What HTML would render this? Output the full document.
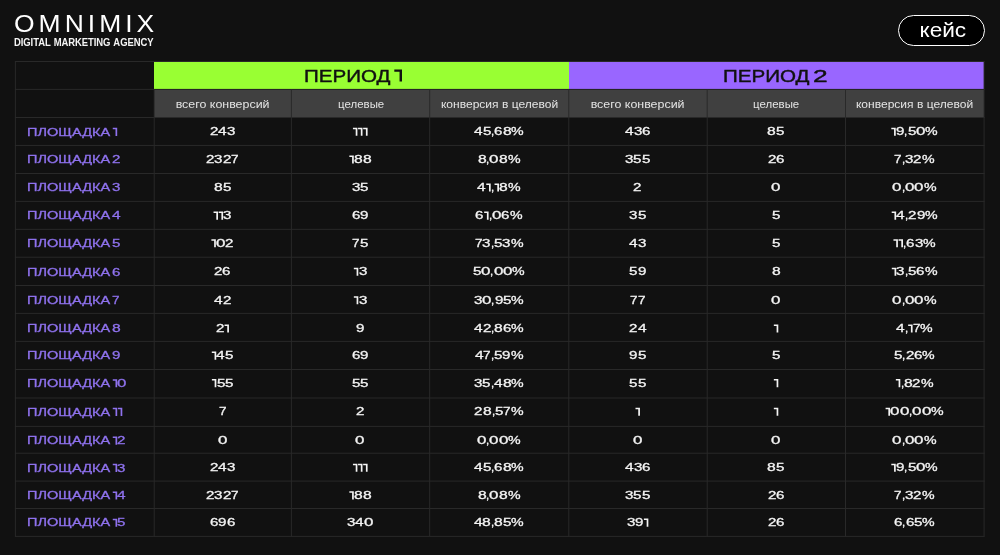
<!DOCTYPE html>
<html><head><meta charset="utf-8"><title>OMNIMIX</title>
<style>
html,body{margin:0;padding:0;background:#111111}
body{width:1000px;height:555px;background:#111111;position:relative;overflow:hidden;font-family:"Liberation Sans",sans-serif}
.t{position:absolute;white-space:nowrap;display:block;will-change:transform}
.r{position:absolute}
</style></head><body>
<div class="r" style="left:154px;top:62px;width:415px;height:27px;background:#99ff33;"></div>
<div class="r" style="left:569px;top:62px;width:415px;height:27px;background:#9966ff;"></div>
<div class="r" style="left:154px;top:90px;width:830px;height:27px;background:#404040;"></div>
<svg class="r" style="left:0;top:0" width="1000" height="555" viewBox="0 0 1000 555"><g stroke="#292929" stroke-width="1" fill="none"><line x1="14.9" y1="61.50" x2="984.6" y2="61.50"/><line x1="14.9" y1="89.40" x2="984.6" y2="89.40"/><line x1="14.9" y1="117.50" x2="984.6" y2="117.50"/><line x1="14.9" y1="145.45" x2="984.6" y2="145.45"/><line x1="14.9" y1="173.50" x2="984.6" y2="173.50"/><line x1="14.9" y1="201.40" x2="984.6" y2="201.40"/><line x1="14.9" y1="229.35" x2="984.6" y2="229.35"/><line x1="14.9" y1="257.20" x2="984.6" y2="257.20"/><line x1="14.9" y1="285.50" x2="984.6" y2="285.50"/><line x1="14.9" y1="313.40" x2="984.6" y2="313.40"/><line x1="14.9" y1="341.40" x2="984.6" y2="341.40"/><line x1="14.9" y1="369.50" x2="984.6" y2="369.50"/><line x1="14.9" y1="398.00" x2="984.6" y2="398.00"/><line x1="14.9" y1="426.40" x2="984.6" y2="426.40"/><line x1="14.9" y1="453.20" x2="984.6" y2="453.20"/><line x1="14.9" y1="481.10" x2="984.6" y2="481.10"/><line x1="14.9" y1="508.50" x2="984.6" y2="508.50"/><line x1="14.9" y1="536.40" x2="984.6" y2="536.40"/><line x1="15.4" y1="61.50" x2="15.4" y2="536.40"/><line x1="154.2" y1="89.40" x2="154.2" y2="536.40"/><line x1="291.4" y1="89.40" x2="291.4" y2="536.40"/><line x1="429.7" y1="89.40" x2="429.7" y2="536.40"/><line x1="568.8" y1="89.40" x2="568.8" y2="536.40"/><line x1="707.2" y1="89.40" x2="707.2" y2="536.40"/><line x1="845.5" y1="89.40" x2="845.5" y2="536.40"/><line x1="984.1" y1="61.50" x2="984.1" y2="536.40"/></g></svg>
<span class="t" style="left:303.60px;top:67.83px;font-size:16.5px;line-height:16.5px;color:#111;font-weight:normal;letter-spacing:0px;transform:scale(1.246,1.0);transform-origin:left 0.8465em;-webkit-text-stroke:0.4px #111;">ПЕРИОД</span>
<span class="t" style="left:722.60px;top:67.83px;font-size:16.5px;line-height:16.5px;color:#111;font-weight:normal;letter-spacing:0px;transform:scale(1.246,1.0);transform-origin:left 0.8465em;-webkit-text-stroke:0.4px #111;">ПЕРИОД</span>
<span class="t" style="left:813.39px;top:67.83px;font-size:16.5px;line-height:16.5px;color:#111;font-weight:normal;letter-spacing:0px;transform:scale(1.5926835053654147,1.0);transform-origin:left 0.8465em;-webkit-text-stroke:0.4px #111;">2</span>
<span class="t" style="left:180.82px;top:98.79px;font-size:11px;line-height:11px;color:#e4e4e4;font-weight:normal;letter-spacing:0px;transform:scale(1.129,1.0);transform-origin:center 0.8465em;">всего конверсий</span>
<span class="t" style="left:338.73px;top:98.79px;font-size:11px;line-height:11px;color:#e4e4e4;font-weight:normal;letter-spacing:0px;transform:scale(1.04,1.0);transform-origin:center 0.8465em;">целевые</span>
<span class="t" style="left:445.66px;top:98.79px;font-size:11px;line-height:11px;color:#e4e4e4;font-weight:normal;letter-spacing:0px;transform:scale(1.094,1.0);transform-origin:center 0.8465em;">конверсия в целевой</span>
<span class="t" style="left:595.82px;top:98.79px;font-size:11px;line-height:11px;color:#e4e4e4;font-weight:normal;letter-spacing:0px;transform:scale(1.129,1.0);transform-origin:center 0.8465em;">всего конверсий</span>
<span class="t" style="left:754.23px;top:98.79px;font-size:11px;line-height:11px;color:#e4e4e4;font-weight:normal;letter-spacing:0px;transform:scale(1.04,1.0);transform-origin:center 0.8465em;">целевые</span>
<span class="t" style="left:861.16px;top:98.79px;font-size:11px;line-height:11px;color:#e4e4e4;font-weight:normal;letter-spacing:0px;transform:scale(1.094,1.0);transform-origin:center 0.8465em;">конверсия в целевой</span>
<span class="t" style="left:26.60px;top:126.57px;font-size:11.2px;line-height:11.2px;color:#8f72ee;font-weight:normal;letter-spacing:0px;transform:scale(1.3,1.0);transform-origin:left 0.8465em;-webkit-text-stroke:0.3px #8f72ee;">ПЛОЩАДКА</span>
<span class="t" style="left:209.70px;top:126.38px;font-size:11.3px;line-height:11.3px;color:#f4f4f4;font-weight:normal;letter-spacing:0px;transform:scale(1.337,1.0);transform-origin:left 0.8465em;-webkit-text-stroke:0.3px #f4f4f4;">2</span>
<span class="t" style="left:218.10px;top:126.38px;font-size:11.3px;line-height:11.3px;color:#f4f4f4;font-weight:normal;letter-spacing:0px;transform:scale(1.368,1.0);transform-origin:left 0.8465em;-webkit-text-stroke:0.3px #f4f4f4;">4</span>
<span class="t" style="left:226.70px;top:126.38px;font-size:11.3px;line-height:11.3px;color:#f4f4f4;font-weight:normal;letter-spacing:0px;transform:scale(1.337,1.0);transform-origin:left 0.8465em;-webkit-text-stroke:0.3px #f4f4f4;">3</span>
<span class="t" style="left:473.90px;top:126.38px;font-size:11.3px;line-height:11.3px;color:#f4f4f4;font-weight:normal;letter-spacing:0px;transform:scale(1.368,1.0);transform-origin:left 0.8465em;-webkit-text-stroke:0.3px #f4f4f4;">4</span>
<span class="t" style="left:482.50px;top:126.38px;font-size:11.3px;line-height:11.3px;color:#f4f4f4;font-weight:normal;letter-spacing:0px;transform:scale(1.337,1.0);transform-origin:left 0.8465em;-webkit-text-stroke:0.3px #f4f4f4;">5</span>
<span class="t" style="left:490.90px;top:126.38px;font-size:11.3px;line-height:11.3px;color:#f4f4f4;font-weight:normal;letter-spacing:0px;transform:scale(1.019,1.0);transform-origin:left 0.8465em;-webkit-text-stroke:0.3px #f4f4f4;">,</span>
<span class="t" style="left:494.10px;top:126.38px;font-size:11.3px;line-height:11.3px;color:#f4f4f4;font-weight:normal;letter-spacing:0px;transform:scale(1.337,1.0);transform-origin:left 0.8465em;-webkit-text-stroke:0.3px #f4f4f4;">6</span>
<span class="t" style="left:502.50px;top:126.38px;font-size:11.3px;line-height:11.3px;color:#f4f4f4;font-weight:normal;letter-spacing:0px;transform:scale(1.384,1.0);transform-origin:left 0.8465em;-webkit-text-stroke:0.3px #f4f4f4;">8</span>
<span class="t" style="left:511.20px;top:126.38px;font-size:11.3px;line-height:11.3px;color:#f4f4f4;font-weight:normal;letter-spacing:0px;transform:scale(1.254,1.0);transform-origin:left 0.8465em;-webkit-text-stroke:0.3px #f4f4f4;">%</span>
<span class="t" style="left:624.90px;top:126.38px;font-size:11.3px;line-height:11.3px;color:#f4f4f4;font-weight:normal;letter-spacing:0px;transform:scale(1.368,1.0);transform-origin:left 0.8465em;-webkit-text-stroke:0.3px #f4f4f4;">4</span>
<span class="t" style="left:633.50px;top:126.38px;font-size:11.3px;line-height:11.3px;color:#f4f4f4;font-weight:normal;letter-spacing:0px;transform:scale(1.337,1.0);transform-origin:left 0.8465em;-webkit-text-stroke:0.3px #f4f4f4;">3</span>
<span class="t" style="left:641.90px;top:126.38px;font-size:11.3px;line-height:11.3px;color:#f4f4f4;font-weight:normal;letter-spacing:0px;transform:scale(1.337,1.0);transform-origin:left 0.8465em;-webkit-text-stroke:0.3px #f4f4f4;">6</span>
<span class="t" style="left:767.40px;top:126.38px;font-size:11.3px;line-height:11.3px;color:#f4f4f4;font-weight:normal;letter-spacing:0px;transform:scale(1.384,1.0);transform-origin:left 0.8465em;-webkit-text-stroke:0.3px #f4f4f4;">8</span>
<span class="t" style="left:776.10px;top:126.38px;font-size:11.3px;line-height:11.3px;color:#f4f4f4;font-weight:normal;letter-spacing:0px;transform:scale(1.337,1.0);transform-origin:left 0.8465em;-webkit-text-stroke:0.3px #f4f4f4;">5</span>
<span class="t" style="left:895.95px;top:126.38px;font-size:11.3px;line-height:11.3px;color:#f4f4f4;font-weight:normal;letter-spacing:0px;transform:scale(1.337,1.0);transform-origin:left 0.8465em;-webkit-text-stroke:0.3px #f4f4f4;">9</span>
<span class="t" style="left:904.35px;top:126.38px;font-size:11.3px;line-height:11.3px;color:#f4f4f4;font-weight:normal;letter-spacing:0px;transform:scale(1.019,1.0);transform-origin:left 0.8465em;-webkit-text-stroke:0.3px #f4f4f4;">,</span>
<span class="t" style="left:907.55px;top:126.38px;font-size:11.3px;line-height:11.3px;color:#f4f4f4;font-weight:normal;letter-spacing:0px;transform:scale(1.337,1.0);transform-origin:left 0.8465em;-webkit-text-stroke:0.3px #f4f4f4;">5</span>
<span class="t" style="left:915.95px;top:126.38px;font-size:11.3px;line-height:11.3px;color:#f4f4f4;font-weight:normal;letter-spacing:0px;transform:scale(1.496,1.0);transform-origin:left 0.8465em;-webkit-text-stroke:0.3px #f4f4f4;">0</span>
<span class="t" style="left:925.35px;top:126.38px;font-size:11.3px;line-height:11.3px;color:#f4f4f4;font-weight:normal;letter-spacing:0px;transform:scale(1.254,1.0);transform-origin:left 0.8465em;-webkit-text-stroke:0.3px #f4f4f4;">%</span>
<span class="t" style="left:26.60px;top:154.22px;font-size:11.2px;line-height:11.2px;color:#8f72ee;font-weight:normal;letter-spacing:0px;transform:scale(1.3,1.0);transform-origin:left 0.8465em;-webkit-text-stroke:0.3px #8f72ee;">ПЛОЩАДКА</span>
<span class="t" style="left:112.30px;top:154.22px;font-size:11.2px;line-height:11.2px;color:#8f72ee;font-weight:normal;letter-spacing:0px;transform:scale(1.349,1.0);transform-origin:left 0.8465em;-webkit-text-stroke:0.3px #8f72ee;">2</span>
<span class="t" style="left:206.05px;top:154.03px;font-size:11.3px;line-height:11.3px;color:#f4f4f4;font-weight:normal;letter-spacing:0px;transform:scale(1.337,1.0);transform-origin:left 0.8465em;-webkit-text-stroke:0.3px #f4f4f4;">2</span>
<span class="t" style="left:214.45px;top:154.03px;font-size:11.3px;line-height:11.3px;color:#f4f4f4;font-weight:normal;letter-spacing:0px;transform:scale(1.337,1.0);transform-origin:left 0.8465em;-webkit-text-stroke:0.3px #f4f4f4;">3</span>
<span class="t" style="left:222.85px;top:154.03px;font-size:11.3px;line-height:11.3px;color:#f4f4f4;font-weight:normal;letter-spacing:0px;transform:scale(1.337,1.0);transform-origin:left 0.8465em;-webkit-text-stroke:0.3px #f4f4f4;">2</span>
<span class="t" style="left:231.25px;top:154.03px;font-size:11.3px;line-height:11.3px;color:#f4f4f4;font-weight:normal;letter-spacing:0px;transform:scale(1.193,1.0);transform-origin:left 0.8465em;-webkit-text-stroke:0.3px #f4f4f4;">7</span>
<span class="t" style="left:354.00px;top:154.03px;font-size:11.3px;line-height:11.3px;color:#f4f4f4;font-weight:normal;letter-spacing:0px;transform:scale(1.384,1.0);transform-origin:left 0.8465em;-webkit-text-stroke:0.3px #f4f4f4;">8</span>
<span class="t" style="left:362.70px;top:154.03px;font-size:11.3px;line-height:11.3px;color:#f4f4f4;font-weight:normal;letter-spacing:0px;transform:scale(1.384,1.0);transform-origin:left 0.8465em;-webkit-text-stroke:0.3px #f4f4f4;">8</span>
<span class="t" style="left:477.55px;top:154.03px;font-size:11.3px;line-height:11.3px;color:#f4f4f4;font-weight:normal;letter-spacing:0px;transform:scale(1.384,1.0);transform-origin:left 0.8465em;-webkit-text-stroke:0.3px #f4f4f4;">8</span>
<span class="t" style="left:486.25px;top:154.03px;font-size:11.3px;line-height:11.3px;color:#f4f4f4;font-weight:normal;letter-spacing:0px;transform:scale(1.019,1.0);transform-origin:left 0.8465em;-webkit-text-stroke:0.3px #f4f4f4;">,</span>
<span class="t" style="left:489.45px;top:154.03px;font-size:11.3px;line-height:11.3px;color:#f4f4f4;font-weight:normal;letter-spacing:0px;transform:scale(1.496,1.0);transform-origin:left 0.8465em;-webkit-text-stroke:0.3px #f4f4f4;">0</span>
<span class="t" style="left:498.85px;top:154.03px;font-size:11.3px;line-height:11.3px;color:#f4f4f4;font-weight:normal;letter-spacing:0px;transform:scale(1.384,1.0);transform-origin:left 0.8465em;-webkit-text-stroke:0.3px #f4f4f4;">8</span>
<span class="t" style="left:507.55px;top:154.03px;font-size:11.3px;line-height:11.3px;color:#f4f4f4;font-weight:normal;letter-spacing:0px;transform:scale(1.254,1.0);transform-origin:left 0.8465em;-webkit-text-stroke:0.3px #f4f4f4;">%</span>
<span class="t" style="left:625.00px;top:154.03px;font-size:11.3px;line-height:11.3px;color:#f4f4f4;font-weight:normal;letter-spacing:0px;transform:scale(1.337,1.0);transform-origin:left 0.8465em;-webkit-text-stroke:0.3px #f4f4f4;">3</span>
<span class="t" style="left:633.40px;top:154.03px;font-size:11.3px;line-height:11.3px;color:#f4f4f4;font-weight:normal;letter-spacing:0px;transform:scale(1.337,1.0);transform-origin:left 0.8465em;-webkit-text-stroke:0.3px #f4f4f4;">5</span>
<span class="t" style="left:641.80px;top:154.03px;font-size:11.3px;line-height:11.3px;color:#f4f4f4;font-weight:normal;letter-spacing:0px;transform:scale(1.337,1.0);transform-origin:left 0.8465em;-webkit-text-stroke:0.3px #f4f4f4;">5</span>
<span class="t" style="left:767.55px;top:154.03px;font-size:11.3px;line-height:11.3px;color:#f4f4f4;font-weight:normal;letter-spacing:0px;transform:scale(1.337,1.0);transform-origin:left 0.8465em;-webkit-text-stroke:0.3px #f4f4f4;">2</span>
<span class="t" style="left:775.95px;top:154.03px;font-size:11.3px;line-height:11.3px;color:#f4f4f4;font-weight:normal;letter-spacing:0px;transform:scale(1.337,1.0);transform-origin:left 0.8465em;-webkit-text-stroke:0.3px #f4f4f4;">6</span>
<span class="t" style="left:894.35px;top:154.03px;font-size:11.3px;line-height:11.3px;color:#f4f4f4;font-weight:normal;letter-spacing:0px;transform:scale(1.193,1.0);transform-origin:left 0.8465em;-webkit-text-stroke:0.3px #f4f4f4;">7</span>
<span class="t" style="left:901.85px;top:154.03px;font-size:11.3px;line-height:11.3px;color:#f4f4f4;font-weight:normal;letter-spacing:0px;transform:scale(1.019,1.0);transform-origin:left 0.8465em;-webkit-text-stroke:0.3px #f4f4f4;">,</span>
<span class="t" style="left:905.05px;top:154.03px;font-size:11.3px;line-height:11.3px;color:#f4f4f4;font-weight:normal;letter-spacing:0px;transform:scale(1.337,1.0);transform-origin:left 0.8465em;-webkit-text-stroke:0.3px #f4f4f4;">3</span>
<span class="t" style="left:913.45px;top:154.03px;font-size:11.3px;line-height:11.3px;color:#f4f4f4;font-weight:normal;letter-spacing:0px;transform:scale(1.337,1.0);transform-origin:left 0.8465em;-webkit-text-stroke:0.3px #f4f4f4;">2</span>
<span class="t" style="left:921.85px;top:154.03px;font-size:11.3px;line-height:11.3px;color:#f4f4f4;font-weight:normal;letter-spacing:0px;transform:scale(1.254,1.0);transform-origin:left 0.8465em;-webkit-text-stroke:0.3px #f4f4f4;">%</span>
<span class="t" style="left:26.60px;top:182.22px;font-size:11.2px;line-height:11.2px;color:#8f72ee;font-weight:normal;letter-spacing:0px;transform:scale(1.3,1.0);transform-origin:left 0.8465em;-webkit-text-stroke:0.3px #8f72ee;">ПЛОЩАДКА</span>
<span class="t" style="left:112.30px;top:182.22px;font-size:11.2px;line-height:11.2px;color:#8f72ee;font-weight:normal;letter-spacing:0px;transform:scale(1.349,1.0);transform-origin:left 0.8465em;-webkit-text-stroke:0.3px #8f72ee;">3</span>
<span class="t" style="left:213.85px;top:182.03px;font-size:11.3px;line-height:11.3px;color:#f4f4f4;font-weight:normal;letter-spacing:0px;transform:scale(1.384,1.0);transform-origin:left 0.8465em;-webkit-text-stroke:0.3px #f4f4f4;">8</span>
<span class="t" style="left:222.55px;top:182.03px;font-size:11.3px;line-height:11.3px;color:#f4f4f4;font-weight:normal;letter-spacing:0px;transform:scale(1.337,1.0);transform-origin:left 0.8465em;-webkit-text-stroke:0.3px #f4f4f4;">5</span>
<span class="t" style="left:351.75px;top:182.03px;font-size:11.3px;line-height:11.3px;color:#f4f4f4;font-weight:normal;letter-spacing:0px;transform:scale(1.337,1.0);transform-origin:left 0.8465em;-webkit-text-stroke:0.3px #f4f4f4;">3</span>
<span class="t" style="left:360.15px;top:182.03px;font-size:11.3px;line-height:11.3px;color:#f4f4f4;font-weight:normal;letter-spacing:0px;transform:scale(1.337,1.0);transform-origin:left 0.8465em;-webkit-text-stroke:0.3px #f4f4f4;">5</span>
<span class="t" style="left:477.20px;top:182.03px;font-size:11.3px;line-height:11.3px;color:#f4f4f4;font-weight:normal;letter-spacing:0px;transform:scale(1.368,1.0);transform-origin:left 0.8465em;-webkit-text-stroke:0.3px #f4f4f4;">4</span>
<span class="t" style="left:490.90px;top:182.03px;font-size:11.3px;line-height:11.3px;color:#f4f4f4;font-weight:normal;letter-spacing:0px;transform:scale(1.019,1.0);transform-origin:left 0.8465em;-webkit-text-stroke:0.3px #f4f4f4;">,</span>
<span class="t" style="left:499.20px;top:182.03px;font-size:11.3px;line-height:11.3px;color:#f4f4f4;font-weight:normal;letter-spacing:0px;transform:scale(1.384,1.0);transform-origin:left 0.8465em;-webkit-text-stroke:0.3px #f4f4f4;">8</span>
<span class="t" style="left:507.90px;top:182.03px;font-size:11.3px;line-height:11.3px;color:#f4f4f4;font-weight:normal;letter-spacing:0px;transform:scale(1.254,1.0);transform-origin:left 0.8465em;-webkit-text-stroke:0.3px #f4f4f4;">%</span>
<span class="t" style="left:633.40px;top:182.03px;font-size:11.3px;line-height:11.3px;color:#f4f4f4;font-weight:normal;letter-spacing:0px;transform:scale(1.337,1.0);transform-origin:left 0.8465em;-webkit-text-stroke:0.3px #f4f4f4;">2</span>
<span class="t" style="left:771.25px;top:182.03px;font-size:11.3px;line-height:11.3px;color:#f4f4f4;font-weight:normal;letter-spacing:0px;transform:scale(1.496,1.0);transform-origin:left 0.8465em;-webkit-text-stroke:0.3px #f4f4f4;">0</span>
<span class="t" style="left:892.40px;top:182.03px;font-size:11.3px;line-height:11.3px;color:#f4f4f4;font-weight:normal;letter-spacing:0px;transform:scale(1.496,1.0);transform-origin:left 0.8465em;-webkit-text-stroke:0.3px #f4f4f4;">0</span>
<span class="t" style="left:901.80px;top:182.03px;font-size:11.3px;line-height:11.3px;color:#f4f4f4;font-weight:normal;letter-spacing:0px;transform:scale(1.019,1.0);transform-origin:left 0.8465em;-webkit-text-stroke:0.3px #f4f4f4;">,</span>
<span class="t" style="left:905.00px;top:182.03px;font-size:11.3px;line-height:11.3px;color:#f4f4f4;font-weight:normal;letter-spacing:0px;transform:scale(1.496,1.0);transform-origin:left 0.8465em;-webkit-text-stroke:0.3px #f4f4f4;">0</span>
<span class="t" style="left:914.40px;top:182.03px;font-size:11.3px;line-height:11.3px;color:#f4f4f4;font-weight:normal;letter-spacing:0px;transform:scale(1.496,1.0);transform-origin:left 0.8465em;-webkit-text-stroke:0.3px #f4f4f4;">0</span>
<span class="t" style="left:923.80px;top:182.03px;font-size:11.3px;line-height:11.3px;color:#f4f4f4;font-weight:normal;letter-spacing:0px;transform:scale(1.254,1.0);transform-origin:left 0.8465em;-webkit-text-stroke:0.3px #f4f4f4;">%</span>
<span class="t" style="left:26.60px;top:210.42px;font-size:11.2px;line-height:11.2px;color:#8f72ee;font-weight:normal;letter-spacing:0px;transform:scale(1.3,1.0);transform-origin:left 0.8465em;-webkit-text-stroke:0.3px #8f72ee;">ПЛОЩАДКА</span>
<span class="t" style="left:112.30px;top:210.42px;font-size:11.2px;line-height:11.2px;color:#8f72ee;font-weight:normal;letter-spacing:0px;transform:scale(1.381,1.0);transform-origin:left 0.8465em;-webkit-text-stroke:0.3px #8f72ee;">4</span>
<span class="t" style="left:223.30px;top:210.23px;font-size:11.3px;line-height:11.3px;color:#f4f4f4;font-weight:normal;letter-spacing:0px;transform:scale(1.337,1.0);transform-origin:left 0.8465em;-webkit-text-stroke:0.3px #f4f4f4;">3</span>
<span class="t" style="left:351.75px;top:210.23px;font-size:11.3px;line-height:11.3px;color:#f4f4f4;font-weight:normal;letter-spacing:0px;transform:scale(1.337,1.0);transform-origin:left 0.8465em;-webkit-text-stroke:0.3px #f4f4f4;">6</span>
<span class="t" style="left:360.15px;top:210.23px;font-size:11.3px;line-height:11.3px;color:#f4f4f4;font-weight:normal;letter-spacing:0px;transform:scale(1.337,1.0);transform-origin:left 0.8465em;-webkit-text-stroke:0.3px #f4f4f4;">9</span>
<span class="t" style="left:475.30px;top:210.23px;font-size:11.3px;line-height:11.3px;color:#f4f4f4;font-weight:normal;letter-spacing:0px;transform:scale(1.337,1.0);transform-origin:left 0.8465em;-webkit-text-stroke:0.3px #f4f4f4;">6</span>
<span class="t" style="left:488.80px;top:210.23px;font-size:11.3px;line-height:11.3px;color:#f4f4f4;font-weight:normal;letter-spacing:0px;transform:scale(1.019,1.0);transform-origin:left 0.8465em;-webkit-text-stroke:0.3px #f4f4f4;">,</span>
<span class="t" style="left:492.00px;top:210.23px;font-size:11.3px;line-height:11.3px;color:#f4f4f4;font-weight:normal;letter-spacing:0px;transform:scale(1.496,1.0);transform-origin:left 0.8465em;-webkit-text-stroke:0.3px #f4f4f4;">0</span>
<span class="t" style="left:501.40px;top:210.23px;font-size:11.3px;line-height:11.3px;color:#f4f4f4;font-weight:normal;letter-spacing:0px;transform:scale(1.337,1.0);transform-origin:left 0.8465em;-webkit-text-stroke:0.3px #f4f4f4;">6</span>
<span class="t" style="left:509.80px;top:210.23px;font-size:11.3px;line-height:11.3px;color:#f4f4f4;font-weight:normal;letter-spacing:0px;transform:scale(1.254,1.0);transform-origin:left 0.8465em;-webkit-text-stroke:0.3px #f4f4f4;">%</span>
<span class="t" style="left:629.20px;top:210.23px;font-size:11.3px;line-height:11.3px;color:#f4f4f4;font-weight:normal;letter-spacing:0px;transform:scale(1.337,1.0);transform-origin:left 0.8465em;-webkit-text-stroke:0.3px #f4f4f4;">3</span>
<span class="t" style="left:637.60px;top:210.23px;font-size:11.3px;line-height:11.3px;color:#f4f4f4;font-weight:normal;letter-spacing:0px;transform:scale(1.337,1.0);transform-origin:left 0.8465em;-webkit-text-stroke:0.3px #f4f4f4;">5</span>
<span class="t" style="left:771.75px;top:210.23px;font-size:11.3px;line-height:11.3px;color:#f4f4f4;font-weight:normal;letter-spacing:0px;transform:scale(1.337,1.0);transform-origin:left 0.8465em;-webkit-text-stroke:0.3px #f4f4f4;">5</span>
<span class="t" style="left:896.35px;top:210.23px;font-size:11.3px;line-height:11.3px;color:#f4f4f4;font-weight:normal;letter-spacing:0px;transform:scale(1.368,1.0);transform-origin:left 0.8465em;-webkit-text-stroke:0.3px #f4f4f4;">4</span>
<span class="t" style="left:904.95px;top:210.23px;font-size:11.3px;line-height:11.3px;color:#f4f4f4;font-weight:normal;letter-spacing:0px;transform:scale(1.019,1.0);transform-origin:left 0.8465em;-webkit-text-stroke:0.3px #f4f4f4;">,</span>
<span class="t" style="left:908.15px;top:210.23px;font-size:11.3px;line-height:11.3px;color:#f4f4f4;font-weight:normal;letter-spacing:0px;transform:scale(1.337,1.0);transform-origin:left 0.8465em;-webkit-text-stroke:0.3px #f4f4f4;">2</span>
<span class="t" style="left:916.55px;top:210.23px;font-size:11.3px;line-height:11.3px;color:#f4f4f4;font-weight:normal;letter-spacing:0px;transform:scale(1.337,1.0);transform-origin:left 0.8465em;-webkit-text-stroke:0.3px #f4f4f4;">9</span>
<span class="t" style="left:924.95px;top:210.23px;font-size:11.3px;line-height:11.3px;color:#f4f4f4;font-weight:normal;letter-spacing:0px;transform:scale(1.254,1.0);transform-origin:left 0.8465em;-webkit-text-stroke:0.3px #f4f4f4;">%</span>
<span class="t" style="left:26.60px;top:238.02px;font-size:11.2px;line-height:11.2px;color:#8f72ee;font-weight:normal;letter-spacing:0px;transform:scale(1.3,1.0);transform-origin:left 0.8465em;-webkit-text-stroke:0.3px #8f72ee;">ПЛОЩАДКА</span>
<span class="t" style="left:112.30px;top:238.02px;font-size:11.2px;line-height:11.2px;color:#8f72ee;font-weight:normal;letter-spacing:0px;transform:scale(1.349,1.0);transform-origin:left 0.8465em;-webkit-text-stroke:0.3px #8f72ee;">5</span>
<span class="t" style="left:216.05px;top:237.83px;font-size:11.3px;line-height:11.3px;color:#f4f4f4;font-weight:normal;letter-spacing:0px;transform:scale(1.496,1.0);transform-origin:left 0.8465em;-webkit-text-stroke:0.3px #f4f4f4;">0</span>
<span class="t" style="left:225.45px;top:237.83px;font-size:11.3px;line-height:11.3px;color:#f4f4f4;font-weight:normal;letter-spacing:0px;transform:scale(1.337,1.0);transform-origin:left 0.8465em;-webkit-text-stroke:0.3px #f4f4f4;">2</span>
<span class="t" style="left:352.20px;top:237.83px;font-size:11.3px;line-height:11.3px;color:#f4f4f4;font-weight:normal;letter-spacing:0px;transform:scale(1.193,1.0);transform-origin:left 0.8465em;-webkit-text-stroke:0.3px #f4f4f4;">7</span>
<span class="t" style="left:359.70px;top:237.83px;font-size:11.3px;line-height:11.3px;color:#f4f4f4;font-weight:normal;letter-spacing:0px;transform:scale(1.337,1.0);transform-origin:left 0.8465em;-webkit-text-stroke:0.3px #f4f4f4;">5</span>
<span class="t" style="left:474.60px;top:237.83px;font-size:11.3px;line-height:11.3px;color:#f4f4f4;font-weight:normal;letter-spacing:0px;transform:scale(1.193,1.0);transform-origin:left 0.8465em;-webkit-text-stroke:0.3px #f4f4f4;">7</span>
<span class="t" style="left:482.10px;top:237.83px;font-size:11.3px;line-height:11.3px;color:#f4f4f4;font-weight:normal;letter-spacing:0px;transform:scale(1.337,1.0);transform-origin:left 0.8465em;-webkit-text-stroke:0.3px #f4f4f4;">3</span>
<span class="t" style="left:490.50px;top:237.83px;font-size:11.3px;line-height:11.3px;color:#f4f4f4;font-weight:normal;letter-spacing:0px;transform:scale(1.019,1.0);transform-origin:left 0.8465em;-webkit-text-stroke:0.3px #f4f4f4;">,</span>
<span class="t" style="left:493.70px;top:237.83px;font-size:11.3px;line-height:11.3px;color:#f4f4f4;font-weight:normal;letter-spacing:0px;transform:scale(1.337,1.0);transform-origin:left 0.8465em;-webkit-text-stroke:0.3px #f4f4f4;">5</span>
<span class="t" style="left:502.10px;top:237.83px;font-size:11.3px;line-height:11.3px;color:#f4f4f4;font-weight:normal;letter-spacing:0px;transform:scale(1.337,1.0);transform-origin:left 0.8465em;-webkit-text-stroke:0.3px #f4f4f4;">3</span>
<span class="t" style="left:510.50px;top:237.83px;font-size:11.3px;line-height:11.3px;color:#f4f4f4;font-weight:normal;letter-spacing:0px;transform:scale(1.254,1.0);transform-origin:left 0.8465em;-webkit-text-stroke:0.3px #f4f4f4;">%</span>
<span class="t" style="left:629.10px;top:237.83px;font-size:11.3px;line-height:11.3px;color:#f4f4f4;font-weight:normal;letter-spacing:0px;transform:scale(1.368,1.0);transform-origin:left 0.8465em;-webkit-text-stroke:0.3px #f4f4f4;">4</span>
<span class="t" style="left:637.70px;top:237.83px;font-size:11.3px;line-height:11.3px;color:#f4f4f4;font-weight:normal;letter-spacing:0px;transform:scale(1.337,1.0);transform-origin:left 0.8465em;-webkit-text-stroke:0.3px #f4f4f4;">3</span>
<span class="t" style="left:771.75px;top:237.83px;font-size:11.3px;line-height:11.3px;color:#f4f4f4;font-weight:normal;letter-spacing:0px;transform:scale(1.337,1.0);transform-origin:left 0.8465em;-webkit-text-stroke:0.3px #f4f4f4;">5</span>
<span class="t" style="left:903.20px;top:237.83px;font-size:11.3px;line-height:11.3px;color:#f4f4f4;font-weight:normal;letter-spacing:0px;transform:scale(1.019,1.0);transform-origin:left 0.8465em;-webkit-text-stroke:0.3px #f4f4f4;">,</span>
<span class="t" style="left:906.40px;top:237.83px;font-size:11.3px;line-height:11.3px;color:#f4f4f4;font-weight:normal;letter-spacing:0px;transform:scale(1.337,1.0);transform-origin:left 0.8465em;-webkit-text-stroke:0.3px #f4f4f4;">6</span>
<span class="t" style="left:914.80px;top:237.83px;font-size:11.3px;line-height:11.3px;color:#f4f4f4;font-weight:normal;letter-spacing:0px;transform:scale(1.337,1.0);transform-origin:left 0.8465em;-webkit-text-stroke:0.3px #f4f4f4;">3</span>
<span class="t" style="left:923.20px;top:237.83px;font-size:11.3px;line-height:11.3px;color:#f4f4f4;font-weight:normal;letter-spacing:0px;transform:scale(1.254,1.0);transform-origin:left 0.8465em;-webkit-text-stroke:0.3px #f4f4f4;">%</span>
<span class="t" style="left:26.60px;top:266.52px;font-size:11.2px;line-height:11.2px;color:#8f72ee;font-weight:normal;letter-spacing:0px;transform:scale(1.3,1.0);transform-origin:left 0.8465em;-webkit-text-stroke:0.3px #8f72ee;">ПЛОЩАДКА</span>
<span class="t" style="left:112.30px;top:266.52px;font-size:11.2px;line-height:11.2px;color:#8f72ee;font-weight:normal;letter-spacing:0px;transform:scale(1.349,1.0);transform-origin:left 0.8465em;-webkit-text-stroke:0.3px #8f72ee;">6</span>
<span class="t" style="left:214.00px;top:266.33px;font-size:11.3px;line-height:11.3px;color:#f4f4f4;font-weight:normal;letter-spacing:0px;transform:scale(1.337,1.0);transform-origin:left 0.8465em;-webkit-text-stroke:0.3px #f4f4f4;">2</span>
<span class="t" style="left:222.40px;top:266.33px;font-size:11.3px;line-height:11.3px;color:#f4f4f4;font-weight:normal;letter-spacing:0px;transform:scale(1.337,1.0);transform-origin:left 0.8465em;-webkit-text-stroke:0.3px #f4f4f4;">6</span>
<span class="t" style="left:358.50px;top:266.33px;font-size:11.3px;line-height:11.3px;color:#f4f4f4;font-weight:normal;letter-spacing:0px;transform:scale(1.337,1.0);transform-origin:left 0.8465em;-webkit-text-stroke:0.3px #f4f4f4;">3</span>
<span class="t" style="left:472.65px;top:266.33px;font-size:11.3px;line-height:11.3px;color:#f4f4f4;font-weight:normal;letter-spacing:0px;transform:scale(1.337,1.0);transform-origin:left 0.8465em;-webkit-text-stroke:0.3px #f4f4f4;">5</span>
<span class="t" style="left:481.05px;top:266.33px;font-size:11.3px;line-height:11.3px;color:#f4f4f4;font-weight:normal;letter-spacing:0px;transform:scale(1.496,1.0);transform-origin:left 0.8465em;-webkit-text-stroke:0.3px #f4f4f4;">0</span>
<span class="t" style="left:490.45px;top:266.33px;font-size:11.3px;line-height:11.3px;color:#f4f4f4;font-weight:normal;letter-spacing:0px;transform:scale(1.019,1.0);transform-origin:left 0.8465em;-webkit-text-stroke:0.3px #f4f4f4;">,</span>
<span class="t" style="left:493.65px;top:266.33px;font-size:11.3px;line-height:11.3px;color:#f4f4f4;font-weight:normal;letter-spacing:0px;transform:scale(1.496,1.0);transform-origin:left 0.8465em;-webkit-text-stroke:0.3px #f4f4f4;">0</span>
<span class="t" style="left:503.05px;top:266.33px;font-size:11.3px;line-height:11.3px;color:#f4f4f4;font-weight:normal;letter-spacing:0px;transform:scale(1.496,1.0);transform-origin:left 0.8465em;-webkit-text-stroke:0.3px #f4f4f4;">0</span>
<span class="t" style="left:512.45px;top:266.33px;font-size:11.3px;line-height:11.3px;color:#f4f4f4;font-weight:normal;letter-spacing:0px;transform:scale(1.254,1.0);transform-origin:left 0.8465em;-webkit-text-stroke:0.3px #f4f4f4;">%</span>
<span class="t" style="left:629.20px;top:266.33px;font-size:11.3px;line-height:11.3px;color:#f4f4f4;font-weight:normal;letter-spacing:0px;transform:scale(1.337,1.0);transform-origin:left 0.8465em;-webkit-text-stroke:0.3px #f4f4f4;">5</span>
<span class="t" style="left:637.60px;top:266.33px;font-size:11.3px;line-height:11.3px;color:#f4f4f4;font-weight:normal;letter-spacing:0px;transform:scale(1.337,1.0);transform-origin:left 0.8465em;-webkit-text-stroke:0.3px #f4f4f4;">9</span>
<span class="t" style="left:771.60px;top:266.33px;font-size:11.3px;line-height:11.3px;color:#f4f4f4;font-weight:normal;letter-spacing:0px;transform:scale(1.384,1.0);transform-origin:left 0.8465em;-webkit-text-stroke:0.3px #f4f4f4;">8</span>
<span class="t" style="left:896.45px;top:266.33px;font-size:11.3px;line-height:11.3px;color:#f4f4f4;font-weight:normal;letter-spacing:0px;transform:scale(1.337,1.0);transform-origin:left 0.8465em;-webkit-text-stroke:0.3px #f4f4f4;">3</span>
<span class="t" style="left:904.85px;top:266.33px;font-size:11.3px;line-height:11.3px;color:#f4f4f4;font-weight:normal;letter-spacing:0px;transform:scale(1.019,1.0);transform-origin:left 0.8465em;-webkit-text-stroke:0.3px #f4f4f4;">,</span>
<span class="t" style="left:908.05px;top:266.33px;font-size:11.3px;line-height:11.3px;color:#f4f4f4;font-weight:normal;letter-spacing:0px;transform:scale(1.337,1.0);transform-origin:left 0.8465em;-webkit-text-stroke:0.3px #f4f4f4;">5</span>
<span class="t" style="left:916.45px;top:266.33px;font-size:11.3px;line-height:11.3px;color:#f4f4f4;font-weight:normal;letter-spacing:0px;transform:scale(1.337,1.0);transform-origin:left 0.8465em;-webkit-text-stroke:0.3px #f4f4f4;">6</span>
<span class="t" style="left:924.85px;top:266.33px;font-size:11.3px;line-height:11.3px;color:#f4f4f4;font-weight:normal;letter-spacing:0px;transform:scale(1.254,1.0);transform-origin:left 0.8465em;-webkit-text-stroke:0.3px #f4f4f4;">%</span>
<span class="t" style="left:26.60px;top:295.02px;font-size:11.2px;line-height:11.2px;color:#8f72ee;font-weight:normal;letter-spacing:0px;transform:scale(1.3,1.0);transform-origin:left 0.8465em;-webkit-text-stroke:0.3px #8f72ee;">ПЛОЩАДКА</span>
<span class="t" style="left:112.30px;top:295.02px;font-size:11.2px;line-height:11.2px;color:#8f72ee;font-weight:normal;letter-spacing:0px;transform:scale(1.204,1.0);transform-origin:left 0.8465em;-webkit-text-stroke:0.3px #8f72ee;">7</span>
<span class="t" style="left:213.90px;top:294.83px;font-size:11.3px;line-height:11.3px;color:#f4f4f4;font-weight:normal;letter-spacing:0px;transform:scale(1.368,1.0);transform-origin:left 0.8465em;-webkit-text-stroke:0.3px #f4f4f4;">4</span>
<span class="t" style="left:222.50px;top:294.83px;font-size:11.3px;line-height:11.3px;color:#f4f4f4;font-weight:normal;letter-spacing:0px;transform:scale(1.337,1.0);transform-origin:left 0.8465em;-webkit-text-stroke:0.3px #f4f4f4;">2</span>
<span class="t" style="left:358.50px;top:294.83px;font-size:11.3px;line-height:11.3px;color:#f4f4f4;font-weight:normal;letter-spacing:0px;transform:scale(1.337,1.0);transform-origin:left 0.8465em;-webkit-text-stroke:0.3px #f4f4f4;">3</span>
<span class="t" style="left:473.65px;top:294.83px;font-size:11.3px;line-height:11.3px;color:#f4f4f4;font-weight:normal;letter-spacing:0px;transform:scale(1.337,1.0);transform-origin:left 0.8465em;-webkit-text-stroke:0.3px #f4f4f4;">3</span>
<span class="t" style="left:482.05px;top:294.83px;font-size:11.3px;line-height:11.3px;color:#f4f4f4;font-weight:normal;letter-spacing:0px;transform:scale(1.496,1.0);transform-origin:left 0.8465em;-webkit-text-stroke:0.3px #f4f4f4;">0</span>
<span class="t" style="left:491.45px;top:294.83px;font-size:11.3px;line-height:11.3px;color:#f4f4f4;font-weight:normal;letter-spacing:0px;transform:scale(1.019,1.0);transform-origin:left 0.8465em;-webkit-text-stroke:0.3px #f4f4f4;">,</span>
<span class="t" style="left:494.65px;top:294.83px;font-size:11.3px;line-height:11.3px;color:#f4f4f4;font-weight:normal;letter-spacing:0px;transform:scale(1.337,1.0);transform-origin:left 0.8465em;-webkit-text-stroke:0.3px #f4f4f4;">9</span>
<span class="t" style="left:503.05px;top:294.83px;font-size:11.3px;line-height:11.3px;color:#f4f4f4;font-weight:normal;letter-spacing:0px;transform:scale(1.337,1.0);transform-origin:left 0.8465em;-webkit-text-stroke:0.3px #f4f4f4;">5</span>
<span class="t" style="left:511.45px;top:294.83px;font-size:11.3px;line-height:11.3px;color:#f4f4f4;font-weight:normal;letter-spacing:0px;transform:scale(1.254,1.0);transform-origin:left 0.8465em;-webkit-text-stroke:0.3px #f4f4f4;">%</span>
<span class="t" style="left:630.10px;top:294.83px;font-size:11.3px;line-height:11.3px;color:#f4f4f4;font-weight:normal;letter-spacing:0px;transform:scale(1.193,1.0);transform-origin:left 0.8465em;-webkit-text-stroke:0.3px #f4f4f4;">7</span>
<span class="t" style="left:637.60px;top:294.83px;font-size:11.3px;line-height:11.3px;color:#f4f4f4;font-weight:normal;letter-spacing:0px;transform:scale(1.193,1.0);transform-origin:left 0.8465em;-webkit-text-stroke:0.3px #f4f4f4;">7</span>
<span class="t" style="left:771.25px;top:294.83px;font-size:11.3px;line-height:11.3px;color:#f4f4f4;font-weight:normal;letter-spacing:0px;transform:scale(1.496,1.0);transform-origin:left 0.8465em;-webkit-text-stroke:0.3px #f4f4f4;">0</span>
<span class="t" style="left:892.40px;top:294.83px;font-size:11.3px;line-height:11.3px;color:#f4f4f4;font-weight:normal;letter-spacing:0px;transform:scale(1.496,1.0);transform-origin:left 0.8465em;-webkit-text-stroke:0.3px #f4f4f4;">0</span>
<span class="t" style="left:901.80px;top:294.83px;font-size:11.3px;line-height:11.3px;color:#f4f4f4;font-weight:normal;letter-spacing:0px;transform:scale(1.019,1.0);transform-origin:left 0.8465em;-webkit-text-stroke:0.3px #f4f4f4;">,</span>
<span class="t" style="left:905.00px;top:294.83px;font-size:11.3px;line-height:11.3px;color:#f4f4f4;font-weight:normal;letter-spacing:0px;transform:scale(1.496,1.0);transform-origin:left 0.8465em;-webkit-text-stroke:0.3px #f4f4f4;">0</span>
<span class="t" style="left:914.40px;top:294.83px;font-size:11.3px;line-height:11.3px;color:#f4f4f4;font-weight:normal;letter-spacing:0px;transform:scale(1.496,1.0);transform-origin:left 0.8465em;-webkit-text-stroke:0.3px #f4f4f4;">0</span>
<span class="t" style="left:923.80px;top:294.83px;font-size:11.3px;line-height:11.3px;color:#f4f4f4;font-weight:normal;letter-spacing:0px;transform:scale(1.254,1.0);transform-origin:left 0.8465em;-webkit-text-stroke:0.3px #f4f4f4;">%</span>
<span class="t" style="left:26.60px;top:323.27px;font-size:11.2px;line-height:11.2px;color:#8f72ee;font-weight:normal;letter-spacing:0px;transform:scale(1.3,1.0);transform-origin:left 0.8465em;-webkit-text-stroke:0.3px #8f72ee;">ПЛОЩАДКА</span>
<span class="t" style="left:112.30px;top:323.27px;font-size:11.2px;line-height:11.2px;color:#8f72ee;font-weight:normal;letter-spacing:0px;transform:scale(1.397,1.0);transform-origin:left 0.8465em;-webkit-text-stroke:0.3px #8f72ee;">8</span>
<span class="t" style="left:215.65px;top:323.08px;font-size:11.3px;line-height:11.3px;color:#f4f4f4;font-weight:normal;letter-spacing:0px;transform:scale(1.337,1.0);transform-origin:left 0.8465em;-webkit-text-stroke:0.3px #f4f4f4;">2</span>
<span class="t" style="left:355.95px;top:323.08px;font-size:11.3px;line-height:11.3px;color:#f4f4f4;font-weight:normal;letter-spacing:0px;transform:scale(1.337,1.0);transform-origin:left 0.8465em;-webkit-text-stroke:0.3px #f4f4f4;">9</span>
<span class="t" style="left:473.90px;top:323.08px;font-size:11.3px;line-height:11.3px;color:#f4f4f4;font-weight:normal;letter-spacing:0px;transform:scale(1.368,1.0);transform-origin:left 0.8465em;-webkit-text-stroke:0.3px #f4f4f4;">4</span>
<span class="t" style="left:482.50px;top:323.08px;font-size:11.3px;line-height:11.3px;color:#f4f4f4;font-weight:normal;letter-spacing:0px;transform:scale(1.337,1.0);transform-origin:left 0.8465em;-webkit-text-stroke:0.3px #f4f4f4;">2</span>
<span class="t" style="left:490.90px;top:323.08px;font-size:11.3px;line-height:11.3px;color:#f4f4f4;font-weight:normal;letter-spacing:0px;transform:scale(1.019,1.0);transform-origin:left 0.8465em;-webkit-text-stroke:0.3px #f4f4f4;">,</span>
<span class="t" style="left:494.10px;top:323.08px;font-size:11.3px;line-height:11.3px;color:#f4f4f4;font-weight:normal;letter-spacing:0px;transform:scale(1.384,1.0);transform-origin:left 0.8465em;-webkit-text-stroke:0.3px #f4f4f4;">8</span>
<span class="t" style="left:502.80px;top:323.08px;font-size:11.3px;line-height:11.3px;color:#f4f4f4;font-weight:normal;letter-spacing:0px;transform:scale(1.337,1.0);transform-origin:left 0.8465em;-webkit-text-stroke:0.3px #f4f4f4;">6</span>
<span class="t" style="left:511.20px;top:323.08px;font-size:11.3px;line-height:11.3px;color:#f4f4f4;font-weight:normal;letter-spacing:0px;transform:scale(1.254,1.0);transform-origin:left 0.8465em;-webkit-text-stroke:0.3px #f4f4f4;">%</span>
<span class="t" style="left:629.10px;top:323.08px;font-size:11.3px;line-height:11.3px;color:#f4f4f4;font-weight:normal;letter-spacing:0px;transform:scale(1.337,1.0);transform-origin:left 0.8465em;-webkit-text-stroke:0.3px #f4f4f4;">2</span>
<span class="t" style="left:637.50px;top:323.08px;font-size:11.3px;line-height:11.3px;color:#f4f4f4;font-weight:normal;letter-spacing:0px;transform:scale(1.368,1.0);transform-origin:left 0.8465em;-webkit-text-stroke:0.3px #f4f4f4;">4</span>
<span class="t" style="left:895.90px;top:323.08px;font-size:11.3px;line-height:11.3px;color:#f4f4f4;font-weight:normal;letter-spacing:0px;transform:scale(1.368,1.0);transform-origin:left 0.8465em;-webkit-text-stroke:0.3px #f4f4f4;">4</span>
<span class="t" style="left:904.50px;top:323.08px;font-size:11.3px;line-height:11.3px;color:#f4f4f4;font-weight:normal;letter-spacing:0px;transform:scale(1.019,1.0);transform-origin:left 0.8465em;-webkit-text-stroke:0.3px #f4f4f4;">,</span>
<span class="t" style="left:912.80px;top:323.08px;font-size:11.3px;line-height:11.3px;color:#f4f4f4;font-weight:normal;letter-spacing:0px;transform:scale(1.193,1.0);transform-origin:left 0.8465em;-webkit-text-stroke:0.3px #f4f4f4;">7</span>
<span class="t" style="left:920.30px;top:323.08px;font-size:11.3px;line-height:11.3px;color:#f4f4f4;font-weight:normal;letter-spacing:0px;transform:scale(1.254,1.0);transform-origin:left 0.8465em;-webkit-text-stroke:0.3px #f4f4f4;">%</span>
<span class="t" style="left:26.60px;top:350.37px;font-size:11.2px;line-height:11.2px;color:#8f72ee;font-weight:normal;letter-spacing:0px;transform:scale(1.3,1.0);transform-origin:left 0.8465em;-webkit-text-stroke:0.3px #8f72ee;">ПЛОЩАДКА</span>
<span class="t" style="left:112.30px;top:350.37px;font-size:11.2px;line-height:11.2px;color:#8f72ee;font-weight:normal;letter-spacing:0px;transform:scale(1.349,1.0);transform-origin:left 0.8465em;-webkit-text-stroke:0.3px #8f72ee;">9</span>
<span class="t" style="left:216.45px;top:350.18px;font-size:11.3px;line-height:11.3px;color:#f4f4f4;font-weight:normal;letter-spacing:0px;transform:scale(1.368,1.0);transform-origin:left 0.8465em;-webkit-text-stroke:0.3px #f4f4f4;">4</span>
<span class="t" style="left:225.05px;top:350.18px;font-size:11.3px;line-height:11.3px;color:#f4f4f4;font-weight:normal;letter-spacing:0px;transform:scale(1.337,1.0);transform-origin:left 0.8465em;-webkit-text-stroke:0.3px #f4f4f4;">5</span>
<span class="t" style="left:351.75px;top:350.18px;font-size:11.3px;line-height:11.3px;color:#f4f4f4;font-weight:normal;letter-spacing:0px;transform:scale(1.337,1.0);transform-origin:left 0.8465em;-webkit-text-stroke:0.3px #f4f4f4;">6</span>
<span class="t" style="left:360.15px;top:350.18px;font-size:11.3px;line-height:11.3px;color:#f4f4f4;font-weight:normal;letter-spacing:0px;transform:scale(1.337,1.0);transform-origin:left 0.8465em;-webkit-text-stroke:0.3px #f4f4f4;">9</span>
<span class="t" style="left:474.50px;top:350.18px;font-size:11.3px;line-height:11.3px;color:#f4f4f4;font-weight:normal;letter-spacing:0px;transform:scale(1.368,1.0);transform-origin:left 0.8465em;-webkit-text-stroke:0.3px #f4f4f4;">4</span>
<span class="t" style="left:483.10px;top:350.18px;font-size:11.3px;line-height:11.3px;color:#f4f4f4;font-weight:normal;letter-spacing:0px;transform:scale(1.193,1.0);transform-origin:left 0.8465em;-webkit-text-stroke:0.3px #f4f4f4;">7</span>
<span class="t" style="left:490.60px;top:350.18px;font-size:11.3px;line-height:11.3px;color:#f4f4f4;font-weight:normal;letter-spacing:0px;transform:scale(1.019,1.0);transform-origin:left 0.8465em;-webkit-text-stroke:0.3px #f4f4f4;">,</span>
<span class="t" style="left:493.80px;top:350.18px;font-size:11.3px;line-height:11.3px;color:#f4f4f4;font-weight:normal;letter-spacing:0px;transform:scale(1.337,1.0);transform-origin:left 0.8465em;-webkit-text-stroke:0.3px #f4f4f4;">5</span>
<span class="t" style="left:502.20px;top:350.18px;font-size:11.3px;line-height:11.3px;color:#f4f4f4;font-weight:normal;letter-spacing:0px;transform:scale(1.337,1.0);transform-origin:left 0.8465em;-webkit-text-stroke:0.3px #f4f4f4;">9</span>
<span class="t" style="left:510.60px;top:350.18px;font-size:11.3px;line-height:11.3px;color:#f4f4f4;font-weight:normal;letter-spacing:0px;transform:scale(1.254,1.0);transform-origin:left 0.8465em;-webkit-text-stroke:0.3px #f4f4f4;">%</span>
<span class="t" style="left:629.20px;top:350.18px;font-size:11.3px;line-height:11.3px;color:#f4f4f4;font-weight:normal;letter-spacing:0px;transform:scale(1.337,1.0);transform-origin:left 0.8465em;-webkit-text-stroke:0.3px #f4f4f4;">9</span>
<span class="t" style="left:637.60px;top:350.18px;font-size:11.3px;line-height:11.3px;color:#f4f4f4;font-weight:normal;letter-spacing:0px;transform:scale(1.337,1.0);transform-origin:left 0.8465em;-webkit-text-stroke:0.3px #f4f4f4;">5</span>
<span class="t" style="left:771.75px;top:350.18px;font-size:11.3px;line-height:11.3px;color:#f4f4f4;font-weight:normal;letter-spacing:0px;transform:scale(1.337,1.0);transform-origin:left 0.8465em;-webkit-text-stroke:0.3px #f4f4f4;">5</span>
<span class="t" style="left:893.90px;top:350.18px;font-size:11.3px;line-height:11.3px;color:#f4f4f4;font-weight:normal;letter-spacing:0px;transform:scale(1.337,1.0);transform-origin:left 0.8465em;-webkit-text-stroke:0.3px #f4f4f4;">5</span>
<span class="t" style="left:902.30px;top:350.18px;font-size:11.3px;line-height:11.3px;color:#f4f4f4;font-weight:normal;letter-spacing:0px;transform:scale(1.019,1.0);transform-origin:left 0.8465em;-webkit-text-stroke:0.3px #f4f4f4;">,</span>
<span class="t" style="left:905.50px;top:350.18px;font-size:11.3px;line-height:11.3px;color:#f4f4f4;font-weight:normal;letter-spacing:0px;transform:scale(1.337,1.0);transform-origin:left 0.8465em;-webkit-text-stroke:0.3px #f4f4f4;">2</span>
<span class="t" style="left:913.90px;top:350.18px;font-size:11.3px;line-height:11.3px;color:#f4f4f4;font-weight:normal;letter-spacing:0px;transform:scale(1.337,1.0);transform-origin:left 0.8465em;-webkit-text-stroke:0.3px #f4f4f4;">6</span>
<span class="t" style="left:922.30px;top:350.18px;font-size:11.3px;line-height:11.3px;color:#f4f4f4;font-weight:normal;letter-spacing:0px;transform:scale(1.254,1.0);transform-origin:left 0.8465em;-webkit-text-stroke:0.3px #f4f4f4;">%</span>
<span class="t" style="left:26.60px;top:377.92px;font-size:11.2px;line-height:11.2px;color:#8f72ee;font-weight:normal;letter-spacing:0px;transform:scale(1.3,1.0);transform-origin:left 0.8465em;-webkit-text-stroke:0.3px #8f72ee;">ПЛОЩАДКА</span>
<span class="t" style="left:117.40px;top:377.92px;font-size:11.2px;line-height:11.2px;color:#8f72ee;font-weight:normal;letter-spacing:0px;transform:scale(1.509,1.0);transform-origin:left 0.8465em;-webkit-text-stroke:0.3px #8f72ee;">0</span>
<span class="t" style="left:216.55px;top:377.73px;font-size:11.3px;line-height:11.3px;color:#f4f4f4;font-weight:normal;letter-spacing:0px;transform:scale(1.337,1.0);transform-origin:left 0.8465em;-webkit-text-stroke:0.3px #f4f4f4;">5</span>
<span class="t" style="left:224.95px;top:377.73px;font-size:11.3px;line-height:11.3px;color:#f4f4f4;font-weight:normal;letter-spacing:0px;transform:scale(1.337,1.0);transform-origin:left 0.8465em;-webkit-text-stroke:0.3px #f4f4f4;">5</span>
<span class="t" style="left:351.75px;top:377.73px;font-size:11.3px;line-height:11.3px;color:#f4f4f4;font-weight:normal;letter-spacing:0px;transform:scale(1.337,1.0);transform-origin:left 0.8465em;-webkit-text-stroke:0.3px #f4f4f4;">5</span>
<span class="t" style="left:360.15px;top:377.73px;font-size:11.3px;line-height:11.3px;color:#f4f4f4;font-weight:normal;letter-spacing:0px;transform:scale(1.337,1.0);transform-origin:left 0.8465em;-webkit-text-stroke:0.3px #f4f4f4;">5</span>
<span class="t" style="left:473.90px;top:377.73px;font-size:11.3px;line-height:11.3px;color:#f4f4f4;font-weight:normal;letter-spacing:0px;transform:scale(1.337,1.0);transform-origin:left 0.8465em;-webkit-text-stroke:0.3px #f4f4f4;">3</span>
<span class="t" style="left:482.30px;top:377.73px;font-size:11.3px;line-height:11.3px;color:#f4f4f4;font-weight:normal;letter-spacing:0px;transform:scale(1.337,1.0);transform-origin:left 0.8465em;-webkit-text-stroke:0.3px #f4f4f4;">5</span>
<span class="t" style="left:490.70px;top:377.73px;font-size:11.3px;line-height:11.3px;color:#f4f4f4;font-weight:normal;letter-spacing:0px;transform:scale(1.019,1.0);transform-origin:left 0.8465em;-webkit-text-stroke:0.3px #f4f4f4;">,</span>
<span class="t" style="left:493.90px;top:377.73px;font-size:11.3px;line-height:11.3px;color:#f4f4f4;font-weight:normal;letter-spacing:0px;transform:scale(1.368,1.0);transform-origin:left 0.8465em;-webkit-text-stroke:0.3px #f4f4f4;">4</span>
<span class="t" style="left:502.50px;top:377.73px;font-size:11.3px;line-height:11.3px;color:#f4f4f4;font-weight:normal;letter-spacing:0px;transform:scale(1.384,1.0);transform-origin:left 0.8465em;-webkit-text-stroke:0.3px #f4f4f4;">8</span>
<span class="t" style="left:511.20px;top:377.73px;font-size:11.3px;line-height:11.3px;color:#f4f4f4;font-weight:normal;letter-spacing:0px;transform:scale(1.254,1.0);transform-origin:left 0.8465em;-webkit-text-stroke:0.3px #f4f4f4;">%</span>
<span class="t" style="left:629.20px;top:377.73px;font-size:11.3px;line-height:11.3px;color:#f4f4f4;font-weight:normal;letter-spacing:0px;transform:scale(1.337,1.0);transform-origin:left 0.8465em;-webkit-text-stroke:0.3px #f4f4f4;">5</span>
<span class="t" style="left:637.60px;top:377.73px;font-size:11.3px;line-height:11.3px;color:#f4f4f4;font-weight:normal;letter-spacing:0px;transform:scale(1.337,1.0);transform-origin:left 0.8465em;-webkit-text-stroke:0.3px #f4f4f4;">5</span>
<span class="t" style="left:900.50px;top:377.73px;font-size:11.3px;line-height:11.3px;color:#f4f4f4;font-weight:normal;letter-spacing:0px;transform:scale(1.019,1.0);transform-origin:left 0.8465em;-webkit-text-stroke:0.3px #f4f4f4;">,</span>
<span class="t" style="left:903.70px;top:377.73px;font-size:11.3px;line-height:11.3px;color:#f4f4f4;font-weight:normal;letter-spacing:0px;transform:scale(1.384,1.0);transform-origin:left 0.8465em;-webkit-text-stroke:0.3px #f4f4f4;">8</span>
<span class="t" style="left:912.40px;top:377.73px;font-size:11.3px;line-height:11.3px;color:#f4f4f4;font-weight:normal;letter-spacing:0px;transform:scale(1.337,1.0);transform-origin:left 0.8465em;-webkit-text-stroke:0.3px #f4f4f4;">2</span>
<span class="t" style="left:920.80px;top:377.73px;font-size:11.3px;line-height:11.3px;color:#f4f4f4;font-weight:normal;letter-spacing:0px;transform:scale(1.254,1.0);transform-origin:left 0.8465em;-webkit-text-stroke:0.3px #f4f4f4;">%</span>
<span class="t" style="left:26.60px;top:406.52px;font-size:11.2px;line-height:11.2px;color:#8f72ee;font-weight:normal;letter-spacing:0px;transform:scale(1.3,1.0);transform-origin:left 0.8465em;-webkit-text-stroke:0.3px #8f72ee;">ПЛОЩАДКА</span>
<span class="t" style="left:218.65px;top:406.33px;font-size:11.3px;line-height:11.3px;color:#f4f4f4;font-weight:normal;letter-spacing:0px;transform:scale(1.193,1.0);transform-origin:left 0.8465em;-webkit-text-stroke:0.3px #f4f4f4;">7</span>
<span class="t" style="left:355.95px;top:406.33px;font-size:11.3px;line-height:11.3px;color:#f4f4f4;font-weight:normal;letter-spacing:0px;transform:scale(1.337,1.0);transform-origin:left 0.8465em;-webkit-text-stroke:0.3px #f4f4f4;">2</span>
<span class="t" style="left:474.45px;top:406.33px;font-size:11.3px;line-height:11.3px;color:#f4f4f4;font-weight:normal;letter-spacing:0px;transform:scale(1.337,1.0);transform-origin:left 0.8465em;-webkit-text-stroke:0.3px #f4f4f4;">2</span>
<span class="t" style="left:482.85px;top:406.33px;font-size:11.3px;line-height:11.3px;color:#f4f4f4;font-weight:normal;letter-spacing:0px;transform:scale(1.384,1.0);transform-origin:left 0.8465em;-webkit-text-stroke:0.3px #f4f4f4;">8</span>
<span class="t" style="left:491.55px;top:406.33px;font-size:11.3px;line-height:11.3px;color:#f4f4f4;font-weight:normal;letter-spacing:0px;transform:scale(1.019,1.0);transform-origin:left 0.8465em;-webkit-text-stroke:0.3px #f4f4f4;">,</span>
<span class="t" style="left:494.75px;top:406.33px;font-size:11.3px;line-height:11.3px;color:#f4f4f4;font-weight:normal;letter-spacing:0px;transform:scale(1.337,1.0);transform-origin:left 0.8465em;-webkit-text-stroke:0.3px #f4f4f4;">5</span>
<span class="t" style="left:503.15px;top:406.33px;font-size:11.3px;line-height:11.3px;color:#f4f4f4;font-weight:normal;letter-spacing:0px;transform:scale(1.193,1.0);transform-origin:left 0.8465em;-webkit-text-stroke:0.3px #f4f4f4;">7</span>
<span class="t" style="left:510.65px;top:406.33px;font-size:11.3px;line-height:11.3px;color:#f4f4f4;font-weight:normal;letter-spacing:0px;transform:scale(1.254,1.0);transform-origin:left 0.8465em;-webkit-text-stroke:0.3px #f4f4f4;">%</span>
<span class="t" style="left:890.25px;top:406.33px;font-size:11.3px;line-height:11.3px;color:#f4f4f4;font-weight:normal;letter-spacing:0px;transform:scale(1.496,1.0);transform-origin:left 0.8465em;-webkit-text-stroke:0.3px #f4f4f4;">0</span>
<span class="t" style="left:899.65px;top:406.33px;font-size:11.3px;line-height:11.3px;color:#f4f4f4;font-weight:normal;letter-spacing:0px;transform:scale(1.496,1.0);transform-origin:left 0.8465em;-webkit-text-stroke:0.3px #f4f4f4;">0</span>
<span class="t" style="left:909.05px;top:406.33px;font-size:11.3px;line-height:11.3px;color:#f4f4f4;font-weight:normal;letter-spacing:0px;transform:scale(1.019,1.0);transform-origin:left 0.8465em;-webkit-text-stroke:0.3px #f4f4f4;">,</span>
<span class="t" style="left:912.25px;top:406.33px;font-size:11.3px;line-height:11.3px;color:#f4f4f4;font-weight:normal;letter-spacing:0px;transform:scale(1.496,1.0);transform-origin:left 0.8465em;-webkit-text-stroke:0.3px #f4f4f4;">0</span>
<span class="t" style="left:921.65px;top:406.33px;font-size:11.3px;line-height:11.3px;color:#f4f4f4;font-weight:normal;letter-spacing:0px;transform:scale(1.496,1.0);transform-origin:left 0.8465em;-webkit-text-stroke:0.3px #f4f4f4;">0</span>
<span class="t" style="left:931.05px;top:406.33px;font-size:11.3px;line-height:11.3px;color:#f4f4f4;font-weight:normal;letter-spacing:0px;transform:scale(1.254,1.0);transform-origin:left 0.8465em;-webkit-text-stroke:0.3px #f4f4f4;">%</span>
<span class="t" style="left:26.60px;top:435.32px;font-size:11.2px;line-height:11.2px;color:#8f72ee;font-weight:normal;letter-spacing:0px;transform:scale(1.3,1.0);transform-origin:left 0.8465em;-webkit-text-stroke:0.3px #8f72ee;">ПЛОЩАДКА</span>
<span class="t" style="left:117.40px;top:435.32px;font-size:11.2px;line-height:11.2px;color:#8f72ee;font-weight:normal;letter-spacing:0px;transform:scale(1.349,1.0);transform-origin:left 0.8465em;-webkit-text-stroke:0.3px #8f72ee;">2</span>
<span class="t" style="left:217.70px;top:435.13px;font-size:11.3px;line-height:11.3px;color:#f4f4f4;font-weight:normal;letter-spacing:0px;transform:scale(1.496,1.0);transform-origin:left 0.8465em;-webkit-text-stroke:0.3px #f4f4f4;">0</span>
<span class="t" style="left:355.45px;top:435.13px;font-size:11.3px;line-height:11.3px;color:#f4f4f4;font-weight:normal;letter-spacing:0px;transform:scale(1.496,1.0);transform-origin:left 0.8465em;-webkit-text-stroke:0.3px #f4f4f4;">0</span>
<span class="t" style="left:476.85px;top:435.13px;font-size:11.3px;line-height:11.3px;color:#f4f4f4;font-weight:normal;letter-spacing:0px;transform:scale(1.496,1.0);transform-origin:left 0.8465em;-webkit-text-stroke:0.3px #f4f4f4;">0</span>
<span class="t" style="left:486.25px;top:435.13px;font-size:11.3px;line-height:11.3px;color:#f4f4f4;font-weight:normal;letter-spacing:0px;transform:scale(1.019,1.0);transform-origin:left 0.8465em;-webkit-text-stroke:0.3px #f4f4f4;">,</span>
<span class="t" style="left:489.45px;top:435.13px;font-size:11.3px;line-height:11.3px;color:#f4f4f4;font-weight:normal;letter-spacing:0px;transform:scale(1.496,1.0);transform-origin:left 0.8465em;-webkit-text-stroke:0.3px #f4f4f4;">0</span>
<span class="t" style="left:498.85px;top:435.13px;font-size:11.3px;line-height:11.3px;color:#f4f4f4;font-weight:normal;letter-spacing:0px;transform:scale(1.496,1.0);transform-origin:left 0.8465em;-webkit-text-stroke:0.3px #f4f4f4;">0</span>
<span class="t" style="left:508.25px;top:435.13px;font-size:11.3px;line-height:11.3px;color:#f4f4f4;font-weight:normal;letter-spacing:0px;transform:scale(1.254,1.0);transform-origin:left 0.8465em;-webkit-text-stroke:0.3px #f4f4f4;">%</span>
<span class="t" style="left:632.90px;top:435.13px;font-size:11.3px;line-height:11.3px;color:#f4f4f4;font-weight:normal;letter-spacing:0px;transform:scale(1.496,1.0);transform-origin:left 0.8465em;-webkit-text-stroke:0.3px #f4f4f4;">0</span>
<span class="t" style="left:771.25px;top:435.13px;font-size:11.3px;line-height:11.3px;color:#f4f4f4;font-weight:normal;letter-spacing:0px;transform:scale(1.496,1.0);transform-origin:left 0.8465em;-webkit-text-stroke:0.3px #f4f4f4;">0</span>
<span class="t" style="left:892.40px;top:435.13px;font-size:11.3px;line-height:11.3px;color:#f4f4f4;font-weight:normal;letter-spacing:0px;transform:scale(1.496,1.0);transform-origin:left 0.8465em;-webkit-text-stroke:0.3px #f4f4f4;">0</span>
<span class="t" style="left:901.80px;top:435.13px;font-size:11.3px;line-height:11.3px;color:#f4f4f4;font-weight:normal;letter-spacing:0px;transform:scale(1.019,1.0);transform-origin:left 0.8465em;-webkit-text-stroke:0.3px #f4f4f4;">,</span>
<span class="t" style="left:905.00px;top:435.13px;font-size:11.3px;line-height:11.3px;color:#f4f4f4;font-weight:normal;letter-spacing:0px;transform:scale(1.496,1.0);transform-origin:left 0.8465em;-webkit-text-stroke:0.3px #f4f4f4;">0</span>
<span class="t" style="left:914.40px;top:435.13px;font-size:11.3px;line-height:11.3px;color:#f4f4f4;font-weight:normal;letter-spacing:0px;transform:scale(1.496,1.0);transform-origin:left 0.8465em;-webkit-text-stroke:0.3px #f4f4f4;">0</span>
<span class="t" style="left:923.80px;top:435.13px;font-size:11.3px;line-height:11.3px;color:#f4f4f4;font-weight:normal;letter-spacing:0px;transform:scale(1.254,1.0);transform-origin:left 0.8465em;-webkit-text-stroke:0.3px #f4f4f4;">%</span>
<span class="t" style="left:26.60px;top:462.52px;font-size:11.2px;line-height:11.2px;color:#8f72ee;font-weight:normal;letter-spacing:0px;transform:scale(1.3,1.0);transform-origin:left 0.8465em;-webkit-text-stroke:0.3px #8f72ee;">ПЛОЩАДКА</span>
<span class="t" style="left:117.40px;top:462.52px;font-size:11.2px;line-height:11.2px;color:#8f72ee;font-weight:normal;letter-spacing:0px;transform:scale(1.349,1.0);transform-origin:left 0.8465em;-webkit-text-stroke:0.3px #8f72ee;">3</span>
<span class="t" style="left:209.70px;top:462.33px;font-size:11.3px;line-height:11.3px;color:#f4f4f4;font-weight:normal;letter-spacing:0px;transform:scale(1.337,1.0);transform-origin:left 0.8465em;-webkit-text-stroke:0.3px #f4f4f4;">2</span>
<span class="t" style="left:218.10px;top:462.33px;font-size:11.3px;line-height:11.3px;color:#f4f4f4;font-weight:normal;letter-spacing:0px;transform:scale(1.368,1.0);transform-origin:left 0.8465em;-webkit-text-stroke:0.3px #f4f4f4;">4</span>
<span class="t" style="left:226.70px;top:462.33px;font-size:11.3px;line-height:11.3px;color:#f4f4f4;font-weight:normal;letter-spacing:0px;transform:scale(1.337,1.0);transform-origin:left 0.8465em;-webkit-text-stroke:0.3px #f4f4f4;">3</span>
<span class="t" style="left:473.90px;top:462.33px;font-size:11.3px;line-height:11.3px;color:#f4f4f4;font-weight:normal;letter-spacing:0px;transform:scale(1.368,1.0);transform-origin:left 0.8465em;-webkit-text-stroke:0.3px #f4f4f4;">4</span>
<span class="t" style="left:482.50px;top:462.33px;font-size:11.3px;line-height:11.3px;color:#f4f4f4;font-weight:normal;letter-spacing:0px;transform:scale(1.337,1.0);transform-origin:left 0.8465em;-webkit-text-stroke:0.3px #f4f4f4;">5</span>
<span class="t" style="left:490.90px;top:462.33px;font-size:11.3px;line-height:11.3px;color:#f4f4f4;font-weight:normal;letter-spacing:0px;transform:scale(1.019,1.0);transform-origin:left 0.8465em;-webkit-text-stroke:0.3px #f4f4f4;">,</span>
<span class="t" style="left:494.10px;top:462.33px;font-size:11.3px;line-height:11.3px;color:#f4f4f4;font-weight:normal;letter-spacing:0px;transform:scale(1.337,1.0);transform-origin:left 0.8465em;-webkit-text-stroke:0.3px #f4f4f4;">6</span>
<span class="t" style="left:502.50px;top:462.33px;font-size:11.3px;line-height:11.3px;color:#f4f4f4;font-weight:normal;letter-spacing:0px;transform:scale(1.384,1.0);transform-origin:left 0.8465em;-webkit-text-stroke:0.3px #f4f4f4;">8</span>
<span class="t" style="left:511.20px;top:462.33px;font-size:11.3px;line-height:11.3px;color:#f4f4f4;font-weight:normal;letter-spacing:0px;transform:scale(1.254,1.0);transform-origin:left 0.8465em;-webkit-text-stroke:0.3px #f4f4f4;">%</span>
<span class="t" style="left:624.90px;top:462.33px;font-size:11.3px;line-height:11.3px;color:#f4f4f4;font-weight:normal;letter-spacing:0px;transform:scale(1.368,1.0);transform-origin:left 0.8465em;-webkit-text-stroke:0.3px #f4f4f4;">4</span>
<span class="t" style="left:633.50px;top:462.33px;font-size:11.3px;line-height:11.3px;color:#f4f4f4;font-weight:normal;letter-spacing:0px;transform:scale(1.337,1.0);transform-origin:left 0.8465em;-webkit-text-stroke:0.3px #f4f4f4;">3</span>
<span class="t" style="left:641.90px;top:462.33px;font-size:11.3px;line-height:11.3px;color:#f4f4f4;font-weight:normal;letter-spacing:0px;transform:scale(1.337,1.0);transform-origin:left 0.8465em;-webkit-text-stroke:0.3px #f4f4f4;">6</span>
<span class="t" style="left:767.40px;top:462.33px;font-size:11.3px;line-height:11.3px;color:#f4f4f4;font-weight:normal;letter-spacing:0px;transform:scale(1.384,1.0);transform-origin:left 0.8465em;-webkit-text-stroke:0.3px #f4f4f4;">8</span>
<span class="t" style="left:776.10px;top:462.33px;font-size:11.3px;line-height:11.3px;color:#f4f4f4;font-weight:normal;letter-spacing:0px;transform:scale(1.337,1.0);transform-origin:left 0.8465em;-webkit-text-stroke:0.3px #f4f4f4;">5</span>
<span class="t" style="left:895.95px;top:462.33px;font-size:11.3px;line-height:11.3px;color:#f4f4f4;font-weight:normal;letter-spacing:0px;transform:scale(1.337,1.0);transform-origin:left 0.8465em;-webkit-text-stroke:0.3px #f4f4f4;">9</span>
<span class="t" style="left:904.35px;top:462.33px;font-size:11.3px;line-height:11.3px;color:#f4f4f4;font-weight:normal;letter-spacing:0px;transform:scale(1.019,1.0);transform-origin:left 0.8465em;-webkit-text-stroke:0.3px #f4f4f4;">,</span>
<span class="t" style="left:907.55px;top:462.33px;font-size:11.3px;line-height:11.3px;color:#f4f4f4;font-weight:normal;letter-spacing:0px;transform:scale(1.337,1.0);transform-origin:left 0.8465em;-webkit-text-stroke:0.3px #f4f4f4;">5</span>
<span class="t" style="left:915.95px;top:462.33px;font-size:11.3px;line-height:11.3px;color:#f4f4f4;font-weight:normal;letter-spacing:0px;transform:scale(1.496,1.0);transform-origin:left 0.8465em;-webkit-text-stroke:0.3px #f4f4f4;">0</span>
<span class="t" style="left:925.35px;top:462.33px;font-size:11.3px;line-height:11.3px;color:#f4f4f4;font-weight:normal;letter-spacing:0px;transform:scale(1.254,1.0);transform-origin:left 0.8465em;-webkit-text-stroke:0.3px #f4f4f4;">%</span>
<span class="t" style="left:26.60px;top:490.12px;font-size:11.2px;line-height:11.2px;color:#8f72ee;font-weight:normal;letter-spacing:0px;transform:scale(1.3,1.0);transform-origin:left 0.8465em;-webkit-text-stroke:0.3px #8f72ee;">ПЛОЩАДКА</span>
<span class="t" style="left:117.40px;top:490.12px;font-size:11.2px;line-height:11.2px;color:#8f72ee;font-weight:normal;letter-spacing:0px;transform:scale(1.381,1.0);transform-origin:left 0.8465em;-webkit-text-stroke:0.3px #8f72ee;">4</span>
<span class="t" style="left:206.05px;top:489.93px;font-size:11.3px;line-height:11.3px;color:#f4f4f4;font-weight:normal;letter-spacing:0px;transform:scale(1.337,1.0);transform-origin:left 0.8465em;-webkit-text-stroke:0.3px #f4f4f4;">2</span>
<span class="t" style="left:214.45px;top:489.93px;font-size:11.3px;line-height:11.3px;color:#f4f4f4;font-weight:normal;letter-spacing:0px;transform:scale(1.337,1.0);transform-origin:left 0.8465em;-webkit-text-stroke:0.3px #f4f4f4;">3</span>
<span class="t" style="left:222.85px;top:489.93px;font-size:11.3px;line-height:11.3px;color:#f4f4f4;font-weight:normal;letter-spacing:0px;transform:scale(1.337,1.0);transform-origin:left 0.8465em;-webkit-text-stroke:0.3px #f4f4f4;">2</span>
<span class="t" style="left:231.25px;top:489.93px;font-size:11.3px;line-height:11.3px;color:#f4f4f4;font-weight:normal;letter-spacing:0px;transform:scale(1.193,1.0);transform-origin:left 0.8465em;-webkit-text-stroke:0.3px #f4f4f4;">7</span>
<span class="t" style="left:354.00px;top:489.93px;font-size:11.3px;line-height:11.3px;color:#f4f4f4;font-weight:normal;letter-spacing:0px;transform:scale(1.384,1.0);transform-origin:left 0.8465em;-webkit-text-stroke:0.3px #f4f4f4;">8</span>
<span class="t" style="left:362.70px;top:489.93px;font-size:11.3px;line-height:11.3px;color:#f4f4f4;font-weight:normal;letter-spacing:0px;transform:scale(1.384,1.0);transform-origin:left 0.8465em;-webkit-text-stroke:0.3px #f4f4f4;">8</span>
<span class="t" style="left:477.55px;top:489.93px;font-size:11.3px;line-height:11.3px;color:#f4f4f4;font-weight:normal;letter-spacing:0px;transform:scale(1.384,1.0);transform-origin:left 0.8465em;-webkit-text-stroke:0.3px #f4f4f4;">8</span>
<span class="t" style="left:486.25px;top:489.93px;font-size:11.3px;line-height:11.3px;color:#f4f4f4;font-weight:normal;letter-spacing:0px;transform:scale(1.019,1.0);transform-origin:left 0.8465em;-webkit-text-stroke:0.3px #f4f4f4;">,</span>
<span class="t" style="left:489.45px;top:489.93px;font-size:11.3px;line-height:11.3px;color:#f4f4f4;font-weight:normal;letter-spacing:0px;transform:scale(1.496,1.0);transform-origin:left 0.8465em;-webkit-text-stroke:0.3px #f4f4f4;">0</span>
<span class="t" style="left:498.85px;top:489.93px;font-size:11.3px;line-height:11.3px;color:#f4f4f4;font-weight:normal;letter-spacing:0px;transform:scale(1.384,1.0);transform-origin:left 0.8465em;-webkit-text-stroke:0.3px #f4f4f4;">8</span>
<span class="t" style="left:507.55px;top:489.93px;font-size:11.3px;line-height:11.3px;color:#f4f4f4;font-weight:normal;letter-spacing:0px;transform:scale(1.254,1.0);transform-origin:left 0.8465em;-webkit-text-stroke:0.3px #f4f4f4;">%</span>
<span class="t" style="left:625.00px;top:489.93px;font-size:11.3px;line-height:11.3px;color:#f4f4f4;font-weight:normal;letter-spacing:0px;transform:scale(1.337,1.0);transform-origin:left 0.8465em;-webkit-text-stroke:0.3px #f4f4f4;">3</span>
<span class="t" style="left:633.40px;top:489.93px;font-size:11.3px;line-height:11.3px;color:#f4f4f4;font-weight:normal;letter-spacing:0px;transform:scale(1.337,1.0);transform-origin:left 0.8465em;-webkit-text-stroke:0.3px #f4f4f4;">5</span>
<span class="t" style="left:641.80px;top:489.93px;font-size:11.3px;line-height:11.3px;color:#f4f4f4;font-weight:normal;letter-spacing:0px;transform:scale(1.337,1.0);transform-origin:left 0.8465em;-webkit-text-stroke:0.3px #f4f4f4;">5</span>
<span class="t" style="left:767.55px;top:489.93px;font-size:11.3px;line-height:11.3px;color:#f4f4f4;font-weight:normal;letter-spacing:0px;transform:scale(1.337,1.0);transform-origin:left 0.8465em;-webkit-text-stroke:0.3px #f4f4f4;">2</span>
<span class="t" style="left:775.95px;top:489.93px;font-size:11.3px;line-height:11.3px;color:#f4f4f4;font-weight:normal;letter-spacing:0px;transform:scale(1.337,1.0);transform-origin:left 0.8465em;-webkit-text-stroke:0.3px #f4f4f4;">6</span>
<span class="t" style="left:894.35px;top:489.93px;font-size:11.3px;line-height:11.3px;color:#f4f4f4;font-weight:normal;letter-spacing:0px;transform:scale(1.193,1.0);transform-origin:left 0.8465em;-webkit-text-stroke:0.3px #f4f4f4;">7</span>
<span class="t" style="left:901.85px;top:489.93px;font-size:11.3px;line-height:11.3px;color:#f4f4f4;font-weight:normal;letter-spacing:0px;transform:scale(1.019,1.0);transform-origin:left 0.8465em;-webkit-text-stroke:0.3px #f4f4f4;">,</span>
<span class="t" style="left:905.05px;top:489.93px;font-size:11.3px;line-height:11.3px;color:#f4f4f4;font-weight:normal;letter-spacing:0px;transform:scale(1.337,1.0);transform-origin:left 0.8465em;-webkit-text-stroke:0.3px #f4f4f4;">3</span>
<span class="t" style="left:913.45px;top:489.93px;font-size:11.3px;line-height:11.3px;color:#f4f4f4;font-weight:normal;letter-spacing:0px;transform:scale(1.337,1.0);transform-origin:left 0.8465em;-webkit-text-stroke:0.3px #f4f4f4;">2</span>
<span class="t" style="left:921.85px;top:489.93px;font-size:11.3px;line-height:11.3px;color:#f4f4f4;font-weight:normal;letter-spacing:0px;transform:scale(1.254,1.0);transform-origin:left 0.8465em;-webkit-text-stroke:0.3px #f4f4f4;">%</span>
<span class="t" style="left:26.60px;top:517.37px;font-size:11.2px;line-height:11.2px;color:#8f72ee;font-weight:normal;letter-spacing:0px;transform:scale(1.3,1.0);transform-origin:left 0.8465em;-webkit-text-stroke:0.3px #8f72ee;">ПЛОЩАДКА</span>
<span class="t" style="left:117.40px;top:517.37px;font-size:11.2px;line-height:11.2px;color:#8f72ee;font-weight:normal;letter-spacing:0px;transform:scale(1.349,1.0);transform-origin:left 0.8465em;-webkit-text-stroke:0.3px #8f72ee;">5</span>
<span class="t" style="left:209.80px;top:517.18px;font-size:11.3px;line-height:11.3px;color:#f4f4f4;font-weight:normal;letter-spacing:0px;transform:scale(1.337,1.0);transform-origin:left 0.8465em;-webkit-text-stroke:0.3px #f4f4f4;">6</span>
<span class="t" style="left:218.20px;top:517.18px;font-size:11.3px;line-height:11.3px;color:#f4f4f4;font-weight:normal;letter-spacing:0px;transform:scale(1.337,1.0);transform-origin:left 0.8465em;-webkit-text-stroke:0.3px #f4f4f4;">9</span>
<span class="t" style="left:226.60px;top:517.18px;font-size:11.3px;line-height:11.3px;color:#f4f4f4;font-weight:normal;letter-spacing:0px;transform:scale(1.337,1.0);transform-origin:left 0.8465em;-webkit-text-stroke:0.3px #f4f4f4;">6</span>
<span class="t" style="left:346.95px;top:517.18px;font-size:11.3px;line-height:11.3px;color:#f4f4f4;font-weight:normal;letter-spacing:0px;transform:scale(1.337,1.0);transform-origin:left 0.8465em;-webkit-text-stroke:0.3px #f4f4f4;">3</span>
<span class="t" style="left:355.35px;top:517.18px;font-size:11.3px;line-height:11.3px;color:#f4f4f4;font-weight:normal;letter-spacing:0px;transform:scale(1.368,1.0);transform-origin:left 0.8465em;-webkit-text-stroke:0.3px #f4f4f4;">4</span>
<span class="t" style="left:363.95px;top:517.18px;font-size:11.3px;line-height:11.3px;color:#f4f4f4;font-weight:normal;letter-spacing:0px;transform:scale(1.496,1.0);transform-origin:left 0.8465em;-webkit-text-stroke:0.3px #f4f4f4;">0</span>
<span class="t" style="left:473.75px;top:517.18px;font-size:11.3px;line-height:11.3px;color:#f4f4f4;font-weight:normal;letter-spacing:0px;transform:scale(1.368,1.0);transform-origin:left 0.8465em;-webkit-text-stroke:0.3px #f4f4f4;">4</span>
<span class="t" style="left:482.35px;top:517.18px;font-size:11.3px;line-height:11.3px;color:#f4f4f4;font-weight:normal;letter-spacing:0px;transform:scale(1.384,1.0);transform-origin:left 0.8465em;-webkit-text-stroke:0.3px #f4f4f4;">8</span>
<span class="t" style="left:491.05px;top:517.18px;font-size:11.3px;line-height:11.3px;color:#f4f4f4;font-weight:normal;letter-spacing:0px;transform:scale(1.019,1.0);transform-origin:left 0.8465em;-webkit-text-stroke:0.3px #f4f4f4;">,</span>
<span class="t" style="left:494.25px;top:517.18px;font-size:11.3px;line-height:11.3px;color:#f4f4f4;font-weight:normal;letter-spacing:0px;transform:scale(1.384,1.0);transform-origin:left 0.8465em;-webkit-text-stroke:0.3px #f4f4f4;">8</span>
<span class="t" style="left:502.95px;top:517.18px;font-size:11.3px;line-height:11.3px;color:#f4f4f4;font-weight:normal;letter-spacing:0px;transform:scale(1.337,1.0);transform-origin:left 0.8465em;-webkit-text-stroke:0.3px #f4f4f4;">5</span>
<span class="t" style="left:511.35px;top:517.18px;font-size:11.3px;line-height:11.3px;color:#f4f4f4;font-weight:normal;letter-spacing:0px;transform:scale(1.254,1.0);transform-origin:left 0.8465em;-webkit-text-stroke:0.3px #f4f4f4;">%</span>
<span class="t" style="left:626.65px;top:517.18px;font-size:11.3px;line-height:11.3px;color:#f4f4f4;font-weight:normal;letter-spacing:0px;transform:scale(1.337,1.0);transform-origin:left 0.8465em;-webkit-text-stroke:0.3px #f4f4f4;">3</span>
<span class="t" style="left:635.05px;top:517.18px;font-size:11.3px;line-height:11.3px;color:#f4f4f4;font-weight:normal;letter-spacing:0px;transform:scale(1.337,1.0);transform-origin:left 0.8465em;-webkit-text-stroke:0.3px #f4f4f4;">9</span>
<span class="t" style="left:767.55px;top:517.18px;font-size:11.3px;line-height:11.3px;color:#f4f4f4;font-weight:normal;letter-spacing:0px;transform:scale(1.337,1.0);transform-origin:left 0.8465em;-webkit-text-stroke:0.3px #f4f4f4;">2</span>
<span class="t" style="left:775.95px;top:517.18px;font-size:11.3px;line-height:11.3px;color:#f4f4f4;font-weight:normal;letter-spacing:0px;transform:scale(1.337,1.0);transform-origin:left 0.8465em;-webkit-text-stroke:0.3px #f4f4f4;">6</span>
<span class="t" style="left:893.90px;top:517.18px;font-size:11.3px;line-height:11.3px;color:#f4f4f4;font-weight:normal;letter-spacing:0px;transform:scale(1.337,1.0);transform-origin:left 0.8465em;-webkit-text-stroke:0.3px #f4f4f4;">6</span>
<span class="t" style="left:902.30px;top:517.18px;font-size:11.3px;line-height:11.3px;color:#f4f4f4;font-weight:normal;letter-spacing:0px;transform:scale(1.019,1.0);transform-origin:left 0.8465em;-webkit-text-stroke:0.3px #f4f4f4;">,</span>
<span class="t" style="left:905.50px;top:517.18px;font-size:11.3px;line-height:11.3px;color:#f4f4f4;font-weight:normal;letter-spacing:0px;transform:scale(1.337,1.0);transform-origin:left 0.8465em;-webkit-text-stroke:0.3px #f4f4f4;">6</span>
<span class="t" style="left:913.90px;top:517.18px;font-size:11.3px;line-height:11.3px;color:#f4f4f4;font-weight:normal;letter-spacing:0px;transform:scale(1.337,1.0);transform-origin:left 0.8465em;-webkit-text-stroke:0.3px #f4f4f4;">5</span>
<span class="t" style="left:922.30px;top:517.18px;font-size:11.3px;line-height:11.3px;color:#f4f4f4;font-weight:normal;letter-spacing:0px;transform:scale(1.254,1.0);transform-origin:left 0.8465em;-webkit-text-stroke:0.3px #f4f4f4;">%</span>
<span class="t" style="left:13.60px;top:12.53px;font-size:23px;line-height:23px;color:#ffffff;font-weight:normal;letter-spacing:3.5px;transform:scale(1.15,1.0);transform-origin:left 0.8465em;">OMNIMIX</span>
<span class="t" style="left:14.40px;top:37.66px;font-size:9.5px;line-height:9.5px;color:#f4f4f4;font-weight:bold;letter-spacing:-0.1px;transform:scale(1.0,1.1);transform-origin:left 0.8465em;word-spacing:0.8px;">DIGITAL MARKETING AGENCY</span>
<div class="r" style="left:898px;top:15px;width:85px;height:29px;border:1px solid #fff;border-radius:16px;background:#000"></div>
<span class="t" style="left:921.76px;top:19.60px;font-size:20.2px;line-height:20.2px;color:#ffffff;font-weight:normal;letter-spacing:0px;transform:scale(1.12,1.0);transform-origin:center 0.8465em;">кейс</span>
<svg class="r" style="left:0;top:0" width="1000" height="555" viewBox="0 0 1000 555"><polygon fill="#111" points="394.30,69.60 402.00,69.60 402.00,81.40 399.55,81.40 399.55,71.70 394.30,71.70"/><polygon fill="#8f72ee" points="112.75,127.85 117.20,127.85 117.20,135.95 115.50,135.95 115.50,129.35 112.75,129.35"/><polygon fill="#f4f4f4" points="352.95,127.75 357.40,127.75 357.40,135.85 355.70,135.85 355.70,129.25 352.95,129.25"/><polygon fill="#f4f4f4" points="358.05,127.75 362.50,127.75 362.50,135.85 360.80,135.85 360.80,129.25 358.05,129.25"/><polygon fill="#f4f4f4" points="363.15,127.75 367.60,127.75 367.60,135.85 365.90,135.85 365.90,129.25 363.15,129.25"/><polygon fill="#f4f4f4" points="891.30,127.75 895.75,127.75 895.75,135.85 894.05,135.85 894.05,129.25 891.30,129.25"/><polygon fill="#f4f4f4" points="349.35,155.40 353.80,155.40 353.80,163.50 352.10,163.50 352.10,156.90 349.35,156.90"/><polygon fill="#f4f4f4" points="486.25,183.40 490.70,183.40 490.70,191.50 489.00,191.50 489.00,184.90 486.25,184.90"/><polygon fill="#f4f4f4" points="494.55,183.40 499.00,183.40 499.00,191.50 497.30,191.50 497.30,184.90 494.55,184.90"/><polygon fill="#f4f4f4" points="213.55,211.60 218.00,211.60 218.00,219.70 216.30,219.70 216.30,213.10 213.55,213.10"/><polygon fill="#f4f4f4" points="218.65,211.60 223.10,211.60 223.10,219.70 221.40,219.70 221.40,213.10 218.65,213.10"/><polygon fill="#f4f4f4" points="484.15,211.60 488.60,211.60 488.60,219.70 486.90,219.70 486.90,213.10 484.15,213.10"/><polygon fill="#f4f4f4" points="891.70,211.60 896.15,211.60 896.15,219.70 894.45,219.70 894.45,213.10 891.70,213.10"/><polygon fill="#f4f4f4" points="211.40,239.20 215.85,239.20 215.85,247.30 214.15,247.30 214.15,240.70 211.40,240.70"/><polygon fill="#f4f4f4" points="893.45,239.20 897.90,239.20 897.90,247.30 896.20,247.30 896.20,240.70 893.45,240.70"/><polygon fill="#f4f4f4" points="898.55,239.20 903.00,239.20 903.00,247.30 901.30,247.30 901.30,240.70 898.55,240.70"/><polygon fill="#f4f4f4" points="353.85,267.70 358.30,267.70 358.30,275.80 356.60,275.80 356.60,269.20 353.85,269.20"/><polygon fill="#f4f4f4" points="891.80,267.70 896.25,267.70 896.25,275.80 894.55,275.80 894.55,269.20 891.80,269.20"/><polygon fill="#f4f4f4" points="353.85,296.20 358.30,296.20 358.30,304.30 356.60,304.30 356.60,297.70 353.85,297.70"/><polygon fill="#f4f4f4" points="224.50,324.45 228.95,324.45 228.95,332.55 227.25,332.55 227.25,325.95 224.50,325.95"/><polygon fill="#f4f4f4" points="773.85,324.45 778.30,324.45 778.30,332.55 776.60,332.55 776.60,325.95 773.85,325.95"/><polygon fill="#f4f4f4" points="908.15,324.45 912.60,324.45 912.60,332.55 910.90,332.55 910.90,325.95 908.15,325.95"/><polygon fill="#f4f4f4" points="211.80,351.55 216.25,351.55 216.25,359.65 214.55,359.65 214.55,353.05 211.80,353.05"/><polygon fill="#8f72ee" points="112.75,379.20 117.20,379.20 117.20,387.30 115.50,387.30 115.50,380.70 112.75,380.70"/><polygon fill="#f4f4f4" points="211.90,379.10 216.35,379.10 216.35,387.20 214.65,387.20 214.65,380.60 211.90,380.60"/><polygon fill="#f4f4f4" points="773.85,379.10 778.30,379.10 778.30,387.20 776.60,387.20 776.60,380.60 773.85,380.60"/><polygon fill="#f4f4f4" points="895.85,379.10 900.30,379.10 900.30,387.20 898.60,387.20 898.60,380.60 895.85,380.60"/><polygon fill="#8f72ee" points="112.75,407.80 117.20,407.80 117.20,415.90 115.50,415.90 115.50,409.30 112.75,409.30"/><polygon fill="#8f72ee" points="117.85,407.80 122.30,407.80 122.30,415.90 120.60,415.90 120.60,409.30 117.85,409.30"/><polygon fill="#f4f4f4" points="635.50,407.70 639.95,407.70 639.95,415.80 638.25,415.80 638.25,409.20 635.50,409.20"/><polygon fill="#f4f4f4" points="773.85,407.70 778.30,407.70 778.30,415.80 776.60,415.80 776.60,409.20 773.85,409.20"/><polygon fill="#f4f4f4" points="885.60,407.70 890.05,407.70 890.05,415.80 888.35,415.80 888.35,409.20 885.60,409.20"/><polygon fill="#8f72ee" points="112.75,436.60 117.20,436.60 117.20,444.70 115.50,444.70 115.50,438.10 112.75,438.10"/><polygon fill="#8f72ee" points="112.75,463.80 117.20,463.80 117.20,471.90 115.50,471.90 115.50,465.30 112.75,465.30"/><polygon fill="#f4f4f4" points="352.95,463.70 357.40,463.70 357.40,471.80 355.70,471.80 355.70,465.20 352.95,465.20"/><polygon fill="#f4f4f4" points="358.05,463.70 362.50,463.70 362.50,471.80 360.80,471.80 360.80,465.20 358.05,465.20"/><polygon fill="#f4f4f4" points="363.15,463.70 367.60,463.70 367.60,471.80 365.90,471.80 365.90,465.20 363.15,465.20"/><polygon fill="#f4f4f4" points="891.30,463.70 895.75,463.70 895.75,471.80 894.05,471.80 894.05,465.20 891.30,465.20"/><polygon fill="#8f72ee" points="112.75,491.40 117.20,491.40 117.20,499.50 115.50,499.50 115.50,492.90 112.75,492.90"/><polygon fill="#f4f4f4" points="349.35,491.30 353.80,491.30 353.80,499.40 352.10,499.40 352.10,492.80 349.35,492.80"/><polygon fill="#8f72ee" points="112.75,518.65 117.20,518.65 117.20,526.75 115.50,526.75 115.50,520.15 112.75,520.15"/><polygon fill="#f4f4f4" points="643.90,518.55 648.35,518.55 648.35,526.65 646.65,526.65 646.65,520.05 643.90,520.05"/></svg>
</body></html>
